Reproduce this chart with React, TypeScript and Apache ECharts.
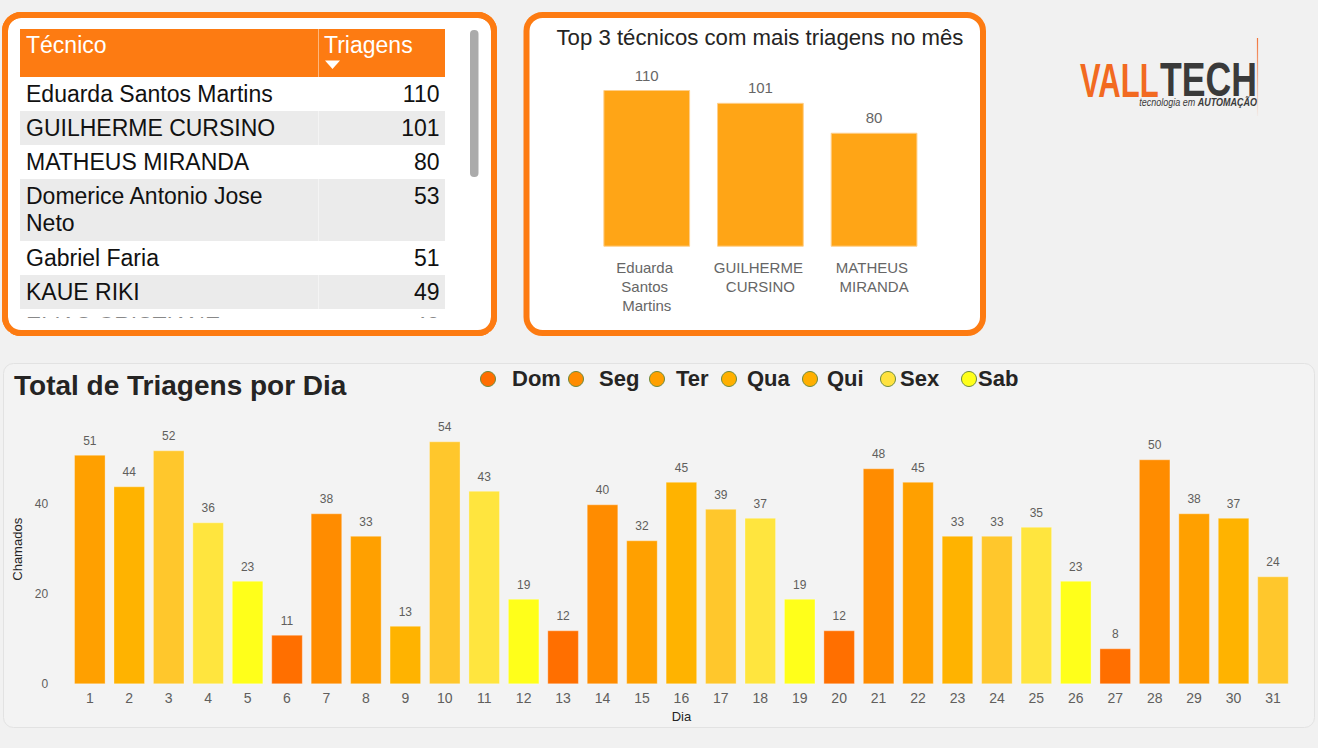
import React, { useEffect, useRef } from "react";
import * as echarts from "echarts";

// ---------- DATA ----------
const techNames = [
  "Eduarda Santos Martins",
  "GUILHERME CURSINO",
  "MATHEUS MIRANDA",
  "Domerice Antonio Jose Neto",
  "Gabriel Faria",
  "KAUE RIKI",
  "ELIAS CRISTIANE",
];
const techValues = [110, 101, 80, 53, 51, 49, 48];

const top3Names = techNames.slice(0, 3);
const top3Values = techValues.slice(0, 3);

const weekdays = ["Dom", "Seg", "Ter", "Qua", "Qui", "Sex", "Sab"];
const days = [
  "1", "2", "3", "4", "5", "6", "7", "8", "9", "10", "11", "12", "13", "14", "15", "16",
  "17", "18", "19", "20", "21", "22", "23", "24", "25", "26", "27", "28", "29", "30", "31",
];
const dayWeekday = [
  "Ter", "Qua", "Qui", "Sex", "Sab", "Dom", "Seg",
  "Ter", "Qua", "Qui", "Sex", "Sab", "Dom", "Seg",
  "Ter", "Qua", "Qui", "Sex", "Sab", "Dom", "Seg",
  "Ter", "Qua", "Qui", "Sex", "Sab", "Dom", "Seg",
  "Ter", "Qua", "Qui",
];
const dayValues = [
  51, 44, 52, 36, 23, 11, 38, 33, 13, 54, 43, 19, 12, 40, 32, 45,
  39, 37, 19, 12, 48, 45, 33, 33, 35, 23, 8, 50, 38, 37, 24,
];
const yTicks = [0, 20, 40, 60];

// ---------- STYLES / LAYOUT ----------
const FONT = "'Liberation Sans', Arial, sans-serif";
const ORANGE = "#FD7B12";
const barColors: Record<string, string> = {
  Dom: "#FF6F00",
  Seg: "#FF8C00",
  Ter: "#FFA000",
  Qua: "#FFB300",
  Qui: "#FFC72C",
  Sex: "#FFE53E",
  Sab: "#FFFF1A",
};
const legendColors = ["#FF6D00", "#FF8C00", "#FFA000", "#FFB000", "#FFAF00", "#FFE23F", "#FFFF1A"];
const legendCircleX = [488, 576, 657, 729, 810, 888, 969];
const legendTextX = [512, 599, 676, 747, 827, 900, 978];
const rowLines = [1, 1, 1, 2, 1, 1, 1];

const leftPanel = { x: 5, y: 15, width: 489, height: 318, r: 16 };

function buildGraphic() {
  const g: any[] = [];
  // bottom panel
  g.push({
    type: "rect",
    shape: { x: 3.5, y: 363.5, width: 1311, height: 364, r: 10 },
    style: { fill: "#F3F3F3", stroke: "#E2E2E2", lineWidth: 1 },
  });
  // left panel
  g.push({
    type: "rect",
    shape: leftPanel,
    style: { fill: "#FFFFFF", stroke: ORANGE, lineWidth: 6 },
  });
  // middle panel
  g.push({
    type: "rect",
    shape: { x: 526.5, y: 15, width: 456.5, height: 318, r: 16 },
    style: { fill: "#FFFFFF", stroke: ORANGE, lineWidth: 6 },
  });
  // table header
  g.push({
    type: "rect",
    shape: { x: 20, y: 29, width: 425, height: 48 },
    style: { fill: ORANGE },
  });
  g.push({
    type: "text",
    x: 26,
    y: 45,
    style: { text: "Técnico", fill: "#FFFFFF", fontSize: 23, fontFamily: FONT, verticalAlign: "middle" },
  });
  g.push({
    type: "text",
    x: 324,
    y: 45,
    style: { text: "Triagens", fill: "#FFFFFF", fontSize: 23, fontFamily: FONT, verticalAlign: "middle" },
  });
  g.push({
    type: "polygon",
    shape: { points: [[325, 60.5], [340, 60.5], [332.5, 69]] },
    style: { fill: "#FFFFFF" },
  });
  // rows
  let y = 77;
  techNames.forEach((name, i) => {
    const h = rowLines[i] === 2 ? 62 : 34;
    if (i % 2 === 1) {
      g.push({
        type: "rect",
        shape: { x: 20, y, width: 425, height: h },
        style: { fill: "#EBEBEB" },
      });
    }
    g.push({
      type: "text",
      x: 26,
      y: y + 3,
      style: {
        text: name,
        fill: "#111111",
        fontSize: 23,
        fontFamily: FONT,
        lineHeight: 27.5,
        width: 282,
        overflow: "break",
        verticalAlign: "top",
      },
    });
    g.push({
      type: "text",
      x: 439.5,
      y: y + 3,
      style: {
        text: String(techValues[i]),
        fill: "#111111",
        fontSize: 23,
        fontFamily: FONT,
        lineHeight: 27.5,
        align: "right",
        verticalAlign: "top",
      },
    });
    y += h;
  });
  // column divider
  g.push({
    type: "line",
    shape: { x1: 318.5, y1: 29, x2: 318.5, y2: 317 },
    style: { stroke: "rgba(255,255,255,0.45)", lineWidth: 1 },
  });
  // cover for the cut-off row, then redraw the panel frame
  g.push({
    type: "rect",
    shape: { x: 9, y: 317.5, width: 481, height: 15.5 },
    style: { fill: "#FFFFFF" },
  });
  g.push({
    type: "rect",
    shape: leftPanel,
    style: { fill: "none", stroke: ORANGE, lineWidth: 6 },
  });
  // scrollbar
  g.push({
    type: "rect",
    shape: { x: 470, y: 30, width: 8.5, height: 147, r: 4 },
    style: { fill: "#ABABAB" },
  });
  // top3 title
  g.push({
    type: "text",
    x: 556.5,
    y: 37,
    style: {
      text: "Top 3 técnicos com mais triagens no mês",
      fill: "#252423",
      fontSize: 22.2,
      fontFamily: FONT,
      verticalAlign: "middle",
    },
  });
  // bottom title
  g.push({
    type: "text",
    x: 14,
    y: 385,
    style: {
      text: "Total de Triagens por Dia",
      fill: "#252423",
      fontSize: 28,
      fontWeight: "bold",
      fontFamily: FONT,
      verticalAlign: "middle",
    },
  });
  // legend
  weekdays.forEach((w, i) => {
    g.push({
      type: "circle",
      shape: { cx: legendCircleX[i], cy: 379, r: 7.5 },
      style: { fill: legendColors[i], stroke: "#6E8B3D", lineWidth: 1 },
    });
    g.push({
      type: "text",
      x: legendTextX[i],
      y: 378.5,
      style: {
        text: w,
        fill: "#252423",
        fontSize: 22,
        fontWeight: "bold",
        fontFamily: FONT,
        verticalAlign: "middle",
      },
    });
  });
  // logo
  g.push({
    type: "line",
    shape: { x1: 1257.5, y1: 38, x2: 1257.5, y2: 116 },
    style: {
      stroke: new echarts.graphic.LinearGradient(0, 38, 0, 116, [
        { offset: 0, color: "rgba(242,110,50,0.95)" },
        { offset: 1, color: "rgba(242,110,50,0.05)" },
      ], true),
      lineWidth: 1.2,
    },
  });
  g.push({
    type: "text",
    x: 1080,
    y: 80,
    scaleX: 0.646,
    style: {
      text: "VALL",
      fill: "#F26A21",
      fontSize: 48,
      fontWeight: "bold",
      fontFamily: FONT,
      verticalAlign: "middle",
    },
  });
  g.push({
    type: "text",
    x: 1160,
    y: 80,
    scaleX: 0.742,
    style: {
      text: "TECH",
      fill: "#3A3A3A",
      fontSize: 48,
      fontWeight: "bold",
      fontFamily: FONT,
      verticalAlign: "middle",
    },
  });
  g.push({
    type: "text",
    x: 1257,
    y: 102,
    scaleX: 0.9,
    style: {
      text: "{a|tecnologia em }{b|AUTOMAÇÃO}",
      align: "right",
      verticalAlign: "middle",
      rich: {
        a: { fontSize: 10, fontStyle: "italic", fill: "#3A3A3A", fontFamily: FONT },
        b: { fontSize: 10, fontStyle: "italic", fontWeight: "bold", fill: "#3A3A3A", fontFamily: FONT },
      },
    },
  });
  return g;
}

function buildOption(): any {
  return {
    animation: false,
    backgroundColor: "#F1F1F1",
    textStyle: { fontFamily: FONT },
    graphic: buildGraphic(),
    grid: [
      { left: 589.9, top: 90, width: 341, height: 156.7, outerBoundsMode: "none", containLabel: false },
      { left: 70.1, top: 414.3, width: 1222.6, height: 270, outerBoundsMode: "none", containLabel: false },
    ],
    xAxis: [
      {
        type: "category",
        gridIndex: 0,
        data: top3Names,
        axisLine: { show: false },
        axisTick: { show: false },
        axisLabel: {
          color: "#666666",
          fontSize: 15,
          lineHeight: 19,
          margin: 11,
          width: 100,
          overflow: "break",
          interval: 0,
          fontFamily: FONT,
        },
      },
      {
        type: "category",
        gridIndex: 1,
        data: days,
        name: "Dia",
        nameLocation: "middle",
        nameGap: 26,
        nameTextStyle: { color: "#252423", fontSize: 13, fontFamily: FONT },
        axisLine: { show: false },
        axisTick: { show: false },
        axisLabel: { color: "#605E5C", fontSize: 14, margin: 7, interval: 0, fontFamily: FONT },
      },
    ],
    yAxis: [
      {
        type: "value",
        gridIndex: 0,
        min: 0,
        max: 110,
        show: false,
      },
      {
        type: "value",
        gridIndex: 1,
        min: yTicks[0],
        max: yTicks[yTicks.length - 1],
        interval: 20,
        name: "Chamados",
        nameLocation: "middle",
        nameGap: 41,
        nameTextStyle: { color: "#252423", fontSize: 13, fontFamily: FONT },
        axisLine: { show: false },
        axisTick: { show: false },
        axisLabel: { color: "#605E5C", fontSize: 12, margin: 22, showMaxLabel: false, fontFamily: FONT },
        splitLine: { show: false },
      },
    ],
    series: [
      {
        type: "bar",
        xAxisIndex: 0,
        yAxisIndex: 0,
        data: top3Values,
        barCategoryGap: "23.7%",
        itemStyle: { color: "#FFA516", borderColor: "#FFCF8A", borderWidth: 1 },
        label: {
          show: true,
          position: "top",
          distance: 7.5,
          color: "#666666",
          fontSize: 15,
          fontFamily: FONT,
        },
      },
      {
        type: "bar",
        xAxisIndex: 1,
        yAxisIndex: 1,
        data: dayValues.map((v, i) => ({
          value: v,
          itemStyle: { color: barColors[dayWeekday[i]] },
        })),
        barCategoryGap: "20%",
        itemStyle: { borderColor: "rgba(255,255,255,0.3)", borderWidth: 1 },
        label: {
          show: true,
          position: "top",
          distance: 8,
          color: "#605E5C",
          fontSize: 12,
          fontFamily: FONT,
        },
      },
    ],
  };
}

export default function App() {
  const ref = useRef<HTMLDivElement>(null);
  useEffect(() => {
    document.body.style.margin = "0";
    const chart = echarts.init(ref.current!, null, { renderer: "svg" });
    chart.setOption(buildOption());
    return () => chart.dispose();
  }, []);
  return <div ref={ref} style={{ width: 1318, height: 748 }} />;
}
